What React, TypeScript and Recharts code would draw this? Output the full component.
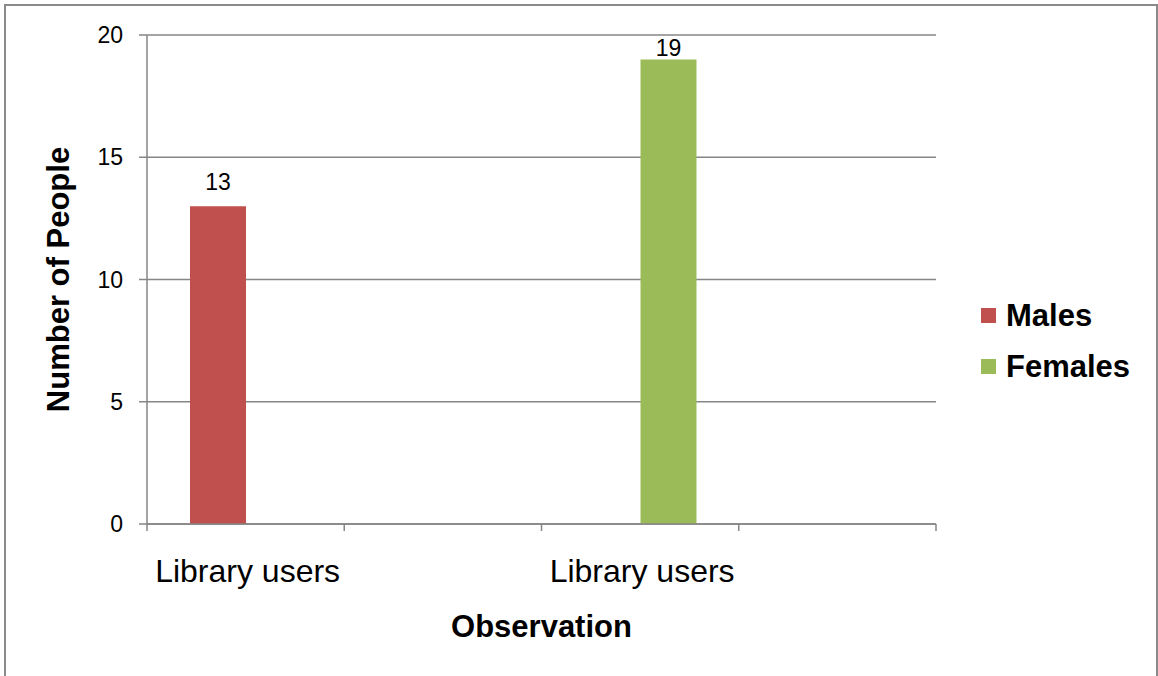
import React from 'react';
import { BarChart, Bar, XAxis, YAxis, CartesianGrid, Legend, LabelList } from 'recharts';

// Excel-style chart: 4 category slots, only slots 1 and 3 carry a label
const categories = ['Library users', '', 'Library users', ''];
const seriesNames = ['Males', 'Females'];
const males = [13, null, null, null];
const females = [null, null, 19, null];
const yTicks = [0, 5, 10, 15, 20];

const data = categories.map((name, i) => ({ name, Males: males[i], Females: females[i] }));

const AXIS = '#868686';
const FONT = '"Liberation Sans", Arial, sans-serif';

const CategoryTick = (props: any) => {
  const { x, y, payload, index } = props;
  const half = payload?.offset ?? 0;
  return (
    <g>
      <line x1={x - half} x2={x - half} y1={y} y2={y + 7} stroke={AXIS} strokeWidth={1.5} />
      {index === categories.length - 1 && (
        <line x1={x + half} x2={x + half} y1={y} y2={y + 7} stroke={AXIS} strokeWidth={1.5} />
      )}
      {payload.value ? (
        <text x={x + 2} y={y + 58} textAnchor="middle" fontSize={32} fontFamily={FONT} fill="#000">
          {payload.value}
        </text>
      ) : null}
    </g>
  );
};

const LegendBox = (props: any) => {
  const items = [...(props.payload || [])].sort(
    (a: any, b: any) => seriesNames.indexOf(a.value) - seriesNames.indexOf(b.value)
  );
  return (
    <div style={{ fontFamily: FONT }}>
      {items.map((it: any) => (
        <div key={it.value} style={{ display: 'flex', alignItems: 'center', height: 51 }}>
          <span style={{ width: 15, height: 15, background: it.color, display: 'inline-block', marginRight: 10 }} />
          <span style={{ fontSize: 31, fontWeight: 'bold', color: '#000' }}>{it.value}</span>
        </div>
      ))}
    </div>
  );
};

export default function App() {
  return (
    <div style={{ position: 'absolute', left: 0, top: 0, width: 1158, height: 676, overflow: 'hidden', background: '#fff' }}>
      <div style={{ position: 'absolute', left: 4, top: 4, width: 1150, height: 700, border: '2px solid #8a8a8a' }} />
      <div style={{ position: 'absolute', left: 0, top: 0 }}>
        <BarChart
          width={1158}
          height={676}
          data={data}
          margin={{ top: 35, right: 222, left: 87, bottom: 52 }}
          barCategoryGap="21.8%"
          barGap={0}
        >
          <CartesianGrid vertical={false} stroke={AXIS} strokeWidth={1.5} />
          <XAxis
            dataKey="name"
            interval={0}
            height={100}
            tickLine={false}
            tickSize={0}
            tickMargin={0}
            axisLine={{ stroke: AXIS, strokeWidth: 1.5 }}
            tick={<CategoryTick />}
            label={{
              content: (p: any) => {
                const vb = p.viewBox;
                return (
                  <text x={vb.x + vb.width / 2} y={637} textAnchor="middle" fontSize={31} fontWeight="bold" fontFamily={FONT} fill="#000">
                    Observation
                  </text>
                );
              },
            }}
          />
          <YAxis
            width={60}
            domain={[0, 20]}
            ticks={yTicks}
            interval={0}
            tickSize={8}
            tickMargin={16}
            axisLine={{ stroke: AXIS, strokeWidth: 1.5 }}
            tickLine={{ stroke: AXIS, strokeWidth: 1.5 }}
            tick={{ fontSize: 23, fontFamily: FONT, fill: '#000' }}
            label={{
              content: (p: any) => {
                const vb = p.viewBox;
                const cx = vb.x - 29;
                const cy = vb.y + vb.height / 2;
                return (
                  <text x={cx} y={cy} transform={`rotate(-90 ${cx} ${cy})`} textAnchor="middle" dominantBaseline="central" fontSize={31} fontWeight="bold" fontFamily={FONT} fill="#000">
                    Number of People
                  </text>
                );
              },
            }}
          />
          <Legend
            layout="horizontal"
            align="center"
            verticalAlign="middle"
            content={<LegendBox />}
            wrapperStyle={{ left: 981, top: 290, width: 170 }}
          />
          <Bar dataKey="Males" name="Males" fill="#C0504D" isAnimationActive={false}>
            <LabelList dataKey="Males" position="top" offset={16} fontSize={23} fontFamily={FONT} fill="#000" />
          </Bar>
          <Bar dataKey="Females" name="Females" fill="#9BBB59" isAnimationActive={false}>
            <LabelList dataKey="Females" position="top" offset={3} fontSize={23} fontFamily={FONT} fill="#000" />
          </Bar>
        </BarChart>
      </div>
    </div>
  );
}
